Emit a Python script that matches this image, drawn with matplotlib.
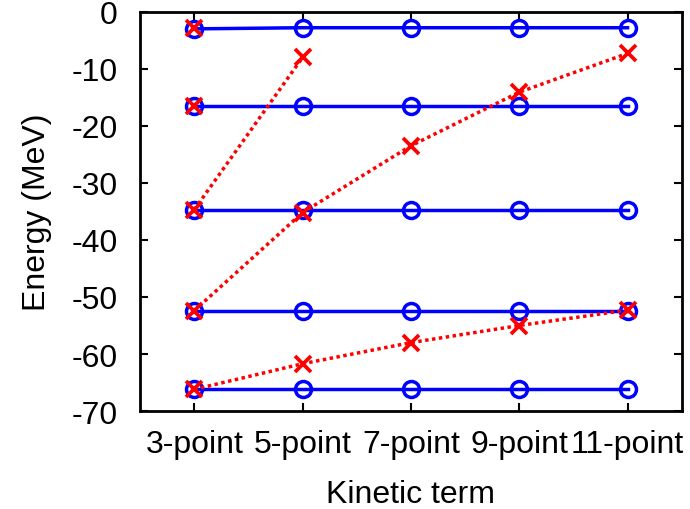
import matplotlib
matplotlib.use("Agg")
import matplotlib.pyplot as plt
import numpy as np

plt.rcParams["font.family"] = ["Liberation Sans", "DejaVu Sans"]
plt.rcParams["axes.unicode_minus"] = False

labels = ["3-point", "5-point", "7-point", "9-point", "11-point"]

# converged levels (blue, solid, circles)
blue_levels = [
    [-3.0, -2.8, -2.8, -2.8, -2.8],
    [-16.6, -16.6, -16.6, -16.6, -16.6],
    [-34.7, -34.7, -34.7, -34.7, -34.7],
    [-52.4, -52.4, -52.4, -52.4, -52.4],
    [-66.2, -66.2, -66.2, -66.2, -66.2],
]

# spurious / moving levels (red, dotted, crosses)
red_levels = [
    [-2.9],
    [-16.6],
    [-34.7, -8.0],
    [-52.4, -35.2, -23.5, -14.1, -7.3],
    [-66.2, -61.7, -58.0, -55.0, -52.3],
]

x = np.arange(1, len(labels) + 1)

fig = plt.figure(figsize=(6.9, 5.1), dpi=100)
ax = fig.add_axes([0.203, 0.192, 0.785, 0.783])

for ys in blue_levels:
    ax.plot(x[:len(ys)], ys, color="#0000ff", lw=2.5, marker="o", ms=11.5,
            mfc="none", mec="#0000ff", mew=2.5, zorder=2)
for ys in red_levels:
    ax.plot(x[:len(ys)], ys, color="#ff0000", lw=2.5, ls=(0, (1, 1)), marker="x",
            ms=11, mew=2.7, zorder=3)

ax.set_xlim(0.5, 5.5)
ax.set_ylim(-70, 0)
ax.set_xticks(x)
ax.set_xticklabels(labels)
ax.set_yticks(np.arange(-70, 1, 10))
ax.tick_params(direction="in", top=True, right=True, length=6, width=1.5,
               labelsize=23)
ax.tick_params(axis="y", pad=16)
ax.tick_params(axis="x", pad=13)
for s in ax.spines.values():
    s.set_linewidth(2)
ax.set_xlabel("Kinetic term", fontsize=23, labelpad=14)
ax.set_ylabel("Energy (MeV)", fontsize=23, labelpad=14)

fig.savefig("out.png", dpi=100)
